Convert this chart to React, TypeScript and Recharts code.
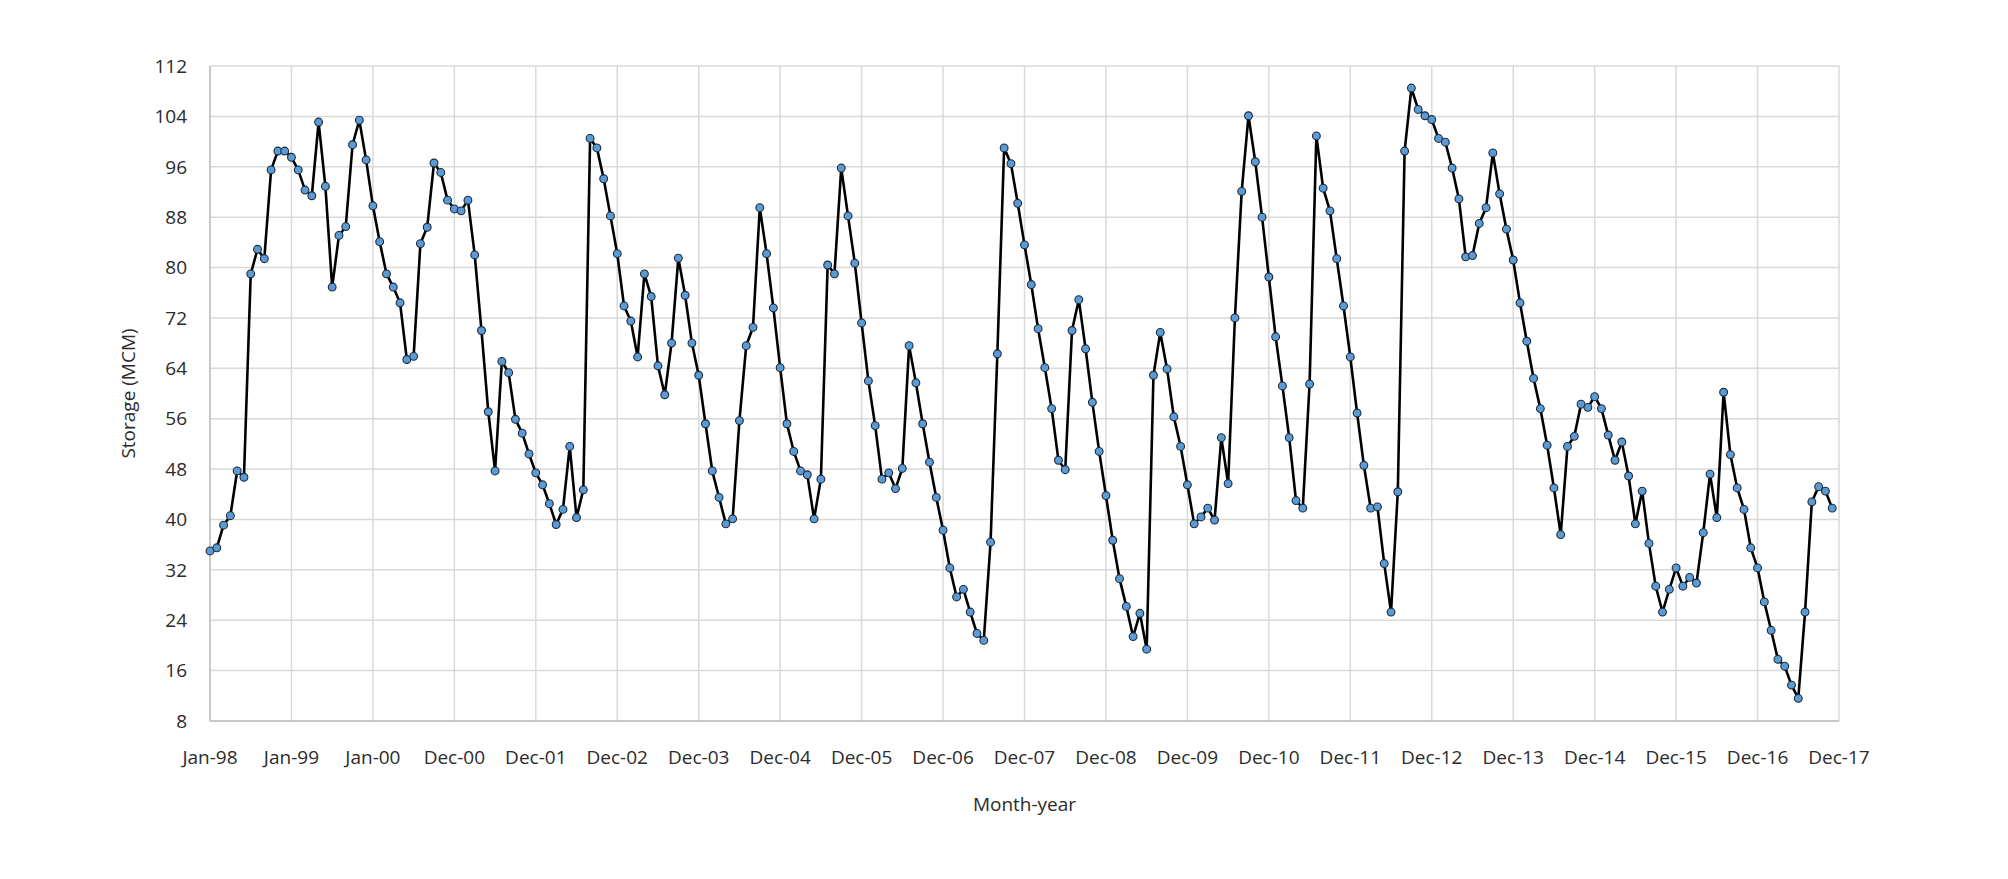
import React from "react";
import { CartesianGrid, Line, LineChart, XAxis, YAxis } from "recharts";

// monthly reservoir storage (MCM), Jan-98 .. Dec-17
const storage = [
  35.0, 35.5, 39.1, 40.6, 47.7, 46.7, 79.0, 82.9, 81.4, 95.5, 98.5, 98.5,
  97.5, 95.5, 92.3, 91.4, 103.1, 92.9, 76.9, 85.1, 86.5, 99.5, 103.4, 97.1,
  89.8, 84.1, 79.0, 76.9, 74.4, 65.4, 65.9, 83.8, 86.4, 96.6, 95.1, 90.7,
  89.3, 89.0, 90.7, 82.0, 70.0, 57.1, 47.7, 65.1, 63.3, 55.9, 53.7, 50.4,
  47.4, 45.5, 42.5, 39.2, 41.6, 51.6, 40.3, 44.7, 100.5, 99.0, 94.1, 88.2,
  82.2, 73.9, 71.5, 65.8, 79.0, 75.4, 64.4, 59.8, 68.0, 81.5, 75.6, 68.0,
  62.9, 55.2, 47.7, 43.5, 39.3, 40.1, 55.7, 67.6, 70.5, 89.5, 82.2, 73.6,
  64.1, 55.2, 50.8, 47.7, 47.1, 40.1, 46.4, 80.4, 79.0, 95.8, 88.2, 80.7,
  71.2, 62.0, 54.9, 46.4, 47.4, 44.9, 48.1, 67.6, 61.7, 55.2, 49.1, 43.5,
  38.3, 32.3, 27.7, 28.9, 25.3, 21.9, 20.8, 36.4, 66.3, 99.0, 96.5, 90.2,
  83.6, 77.3, 70.3, 64.1, 57.6, 49.4, 47.9, 70.0, 74.9, 67.1, 58.6, 50.8,
  43.8, 36.7, 30.6, 26.2, 21.4, 25.1, 19.4, 62.9, 69.7, 63.9, 56.3, 51.6,
  45.5, 39.3, 40.4, 41.8, 39.9, 53.0, 45.7, 72.0, 92.1, 104.1, 96.8, 88.0,
  78.5, 69.0, 61.2, 53.0, 43.0, 41.8, 61.5, 100.9, 92.6, 89.0, 81.4, 73.9,
  65.8, 56.9, 48.6, 41.8, 42.0, 33.0, 25.3, 44.4, 98.5, 108.5, 105.1, 104.1,
  103.5, 100.5, 99.9, 95.8, 90.9, 81.7, 81.9, 87.0, 89.5, 98.2, 91.7, 86.1,
  81.2, 74.4, 68.3, 62.4, 57.6, 51.8, 45.0, 37.6, 51.6, 53.2, 58.3, 57.8,
  59.5, 57.6, 53.4, 49.4, 52.3, 46.9, 39.3, 44.5, 36.2, 29.4, 25.3, 28.9,
  32.3, 29.4, 30.8, 29.9, 37.9, 47.2, 40.3, 60.2, 50.3, 45.0, 41.6, 35.5,
  32.3, 26.9, 22.4, 17.8, 16.7, 13.7, 11.6, 25.3, 42.8, 45.2, 44.5, 41.8,
];

const xTickLabels = [
  "Jan-98", "Jan-99", "Jan-00", "Dec-00", "Dec-01", "Dec-02", "Dec-03",
  "Dec-04", "Dec-05", "Dec-06", "Dec-07", "Dec-08", "Dec-09", "Dec-10",
  "Dec-11", "Dec-12", "Dec-13", "Dec-14", "Dec-15", "Dec-16", "Dec-17",
];

const yTicks = [8, 16, 24, 32, 40, 48, 56, 64, 72, 80, 88, 96, 104, 112];

const data = storage.map((v, i) => ({ idx: i, storage: v }));
const xTicks = xTickLabels.map((_, i) => i * 12);

const font = "'Open Sans', 'Noto Sans', sans-serif";
const tickStyle = { fontSize: 19, fill: "#2b2b2b", fontFamily: font };

export default function App() {
  return (
    <div style={{ position: "absolute", left: 0, top: 0, background: "#fff" }}>
      <LineChart
        width={2008}
        height={879}
        data={data}
        margin={{ top: 66, right: 169, bottom: 0, left: 0 }}
      >
        <CartesianGrid stroke="#d9d9d9" strokeWidth={1.5} />
        <XAxis
          type="number"
          dataKey="idx"
          domain={[0, 240]}
          ticks={xTicks}
          interval={0}
          tickFormatter={(v: number) => xTickLabels[v / 12]}
          height={158}
          tickSize={0}
          tickMargin={30}
          tick={tickStyle}
          axisLine={{ stroke: "#bfbfbf", strokeWidth: 1.5 }}
          label={{
            value: "Month-year",
            position: "center",
            dy: 4,
            style: { fontSize: 19, fill: "#2b2b2b", fontFamily: font },
          }}
        />
        <YAxis
          domain={[8, 112]}
          ticks={yTicks}
          interval={0}
          width={210}
          tickSize={0}
          tickMargin={23}
          tick={tickStyle}
          axisLine={{ stroke: "#bfbfbf", strokeWidth: 1.5 }}
          label={{
            value: "Storage (MCM)",
            angle: -90,
            position: "center",
            dx: 23,
            style: { fontSize: 19, fill: "#2b2b2b", fontFamily: font, textAnchor: "middle" },
          }}
        />
        <Line
          type="linear"
          dataKey="storage"
          stroke="#000"
          strokeWidth={2.6}
          dot={{ r: 3.9, fill: "#5b9bd5", stroke: "#1c2a3a", strokeWidth: 1.1 }}
          activeDot={false}
          isAnimationActive={false}
        />
      </LineChart>
    </div>
  );
}
